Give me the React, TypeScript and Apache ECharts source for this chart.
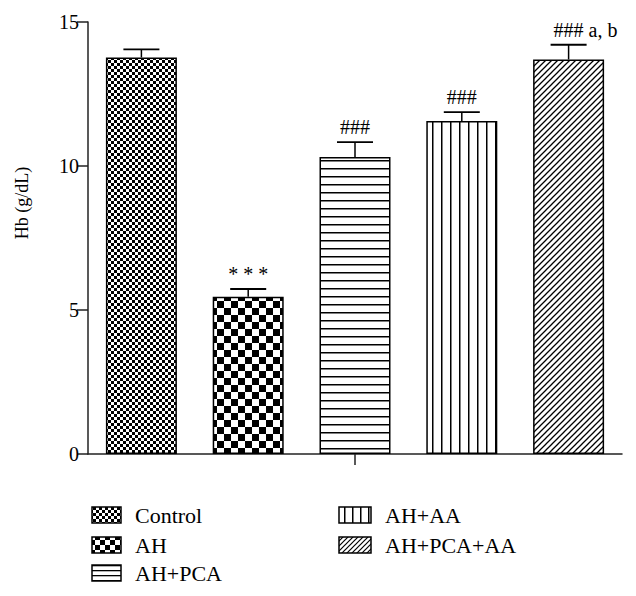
import React, { useEffect, useRef } from "react";
import * as echarts from "echarts";

const categories = ["Control", "AH", "AH+PCA", "AH+AA", "AH+PCA+AA"];
const means = [13.77, 5.46, 10.31, 11.56, 13.7];
const sems = [0.28, 0.27, 0.52, 0.31, 0.51];
const marks = ["", "* * *", "###", "###", "###"];
const extraMarks = ["", "", "", "", "a, b"];
const yTicks = [0, 5, 10, 15];
const yTitle = "Hb (g/dL)";

const FONT = "'Liberation Serif', 'Times New Roman', serif";

function makeCanvas(w: number, h: number, draw: (ctx: CanvasRenderingContext2D) => void) {
  const c = document.createElement("canvas");
  c.width = w;
  c.height = h;
  const ctx = c.getContext("2d")!;
  ctx.fillStyle = "#fff";
  ctx.fillRect(0, 0, w, h);
  ctx.fillStyle = "#000";
  ctx.strokeStyle = "#000";
  draw(ctx);
  return c;
}

function checker(cell: number) {
  return makeCanvas(cell * 2, cell * 2, (ctx) => {
    ctx.fillRect(0, 0, cell, cell);
    ctx.fillRect(cell, cell, cell, cell);
  });
}
function hLines(spacing: number, lw: number) {
  return makeCanvas(4, spacing, (ctx) => {
    ctx.fillRect(0, 0, 4, lw);
  });
}
function vLines(spacing: number, lw: number) {
  return makeCanvas(spacing, 4, (ctx) => {
    ctx.fillRect(0, 0, lw, 4);
  });
}
function diag(size: number, lw: number) {
  return makeCanvas(size, size, (ctx) => {
    ctx.lineWidth = lw;
    ctx.beginPath();
    ctx.moveTo(-1, size + 1);
    ctx.lineTo(size + 1, -1);
    ctx.moveTo(-1, 1);
    ctx.lineTo(1, -1);
    ctx.moveTo(size - 1, size + 1);
    ctx.lineTo(size + 1, size - 1);
    ctx.stroke();
  });
}

const pat = (img: HTMLCanvasElement) => ({ image: img, repeat: "repeat" as const });

export default function App() {
  const ref = useRef<HTMLDivElement>(null);
  useEffect(() => {
    if (!ref.current) return;
    const chart = echarts.init(ref.current, null, { renderer: "svg" });

    const barPatterns = [
      pat(checker(3)),
      pat(checker(7)),
      pat(hLines(8, 1.5)),
      pat(vLines(9, 1.5)),
      pat(diag(6, 1.3)),
    ];
    const legendPatterns = [
      pat(checker(3)),
      pat(checker(5)),
      pat(hLines(5, 1.3)),
      pat(vLines(8, 1.5)),
      pat(diag(5, 1.2)),
    ];

    const legendPos = [
      { sx: 92, tx: 135, y: 515 },
      { sx: 92, tx: 135, y: 545 },
      { sx: 92, tx: 135, y: 573 },
      { sx: 339, tx: 385, y: 515 },
      { sx: 339, tx: 385, y: 545 },
    ];
    const graphics: any[] = [
      {
        type: "text",
        x: 22,
        y: 203,
        rotation: Math.PI / 2,
        style: {
          text: yTitle,
          fontFamily: FONT,
          fontSize: 18,
          fill: "#000",
          textAlign: "center",
          textVerticalAlign: "middle",
        },
      },
    ];
    categories.forEach((name, i) => {
      const p = legendPos[i];
      graphics.push({
        type: "rect",
        shape: { x: p.sx, y: p.y - 8, width: i >= 3 ? 32 : 29, height: 16 },
        style: { fill: legendPatterns[i] as any, stroke: "#000", lineWidth: 1.5 },
      });
      graphics.push({
        type: "text",
        x: p.tx,
        y: p.y,
        style: {
          text: name,
          fontFamily: FONT,
          fontSize: 22,
          fill: "#000",
          textVerticalAlign: "middle",
        },
      });
    });

    const option: any = {
      animation: false,
      grid: { left: 88, right: 14, top: 22, bottom: 142, containLabel: false },
      xAxis: {
        type: "category",
        data: categories,
        axisLine: { lineStyle: { color: "#222", width: 1.5 } },
        axisTick: {
          show: true,
          alignWithLabel: true,
          length: 11,
          interval: (index: number) => index === 2,
          lineStyle: { color: "#222", width: 1.5 },
        },
        axisLabel: { show: false },
      },
      yAxis: {
        type: "value",
        min: 0,
        max: 15,
        interval: 5,
        axisLine: { show: true, lineStyle: { color: "#222", width: 1.5 } },
        axisTick: { show: true, length: 11, lineStyle: { color: "#222", width: 1.5 } },
        axisLabel: {
          fontFamily: FONT,
          fontSize: 20,
          color: "#000",
          margin: 9,
          formatter: (v: number) => (yTicks.includes(v) ? String(v) : ""),
        },
        splitLine: { show: false },
      },
      graphic: graphics,
      series: [
        {
          type: "bar",
          barWidth: 71,
          data: means.map((v, i) => ({
            value: v,
            itemStyle: { color: barPatterns[i], borderColor: "#000", borderWidth: 1.5 },
          })),
          emphasis: { disabled: true },
        },
        {
          type: "custom",
          data: means.map((m, i) => [i, m, sems[i]]),
          z: 10,
          renderItem: (params: any, api: any) => {
            const idx = api.value(0);
            const m = api.value(1);
            const e = api.value(2);
            const base = api.coord([idx, m]);
            const top = api.coord([idx, m + e]);
            const children: any[] = [
              {
                type: "line",
                shape: { x1: base[0], y1: base[1], x2: top[0], y2: top[1] },
                style: { stroke: "#000", lineWidth: 1.5 },
              },
              {
                type: "line",
                shape: { x1: top[0] - 18, y1: top[1], x2: top[0] + 18, y2: top[1] },
                style: { stroke: "#000", lineWidth: 1.8 },
              },
            ];
            const mk = marks[idx];
            if (mk) {
              children.push({
                type: "text",
                x: top[0],
                y: top[1] - 5,
                style: {
                  text: mk,
                  fontFamily: FONT,
                  fontSize: 20,
                  fill: "#000",
                  textAlign: "center",
                  textVerticalAlign: "bottom",
                },
              });
            }
            const ex = extraMarks[idx];
            if (ex) {
              children.push({
                type: "text",
                x: top[0] + 20,
                y: top[1] - 5,
                style: {
                  text: ex,
                  fontFamily: FONT,
                  fontSize: 20,
                  fill: "#000",
                  textAlign: "left",
                  textVerticalAlign: "bottom",
                },
              });
            }
            return { type: "group", children };
          },
        },
      ],
    };
    chart.setOption(option);
    return () => chart.dispose();
  }, []);
  return (
    <div
      ref={ref}
      style={{ position: "absolute", left: 0, top: 0, width: 636, height: 596, background: "#fff" }}
    />
  );
}
